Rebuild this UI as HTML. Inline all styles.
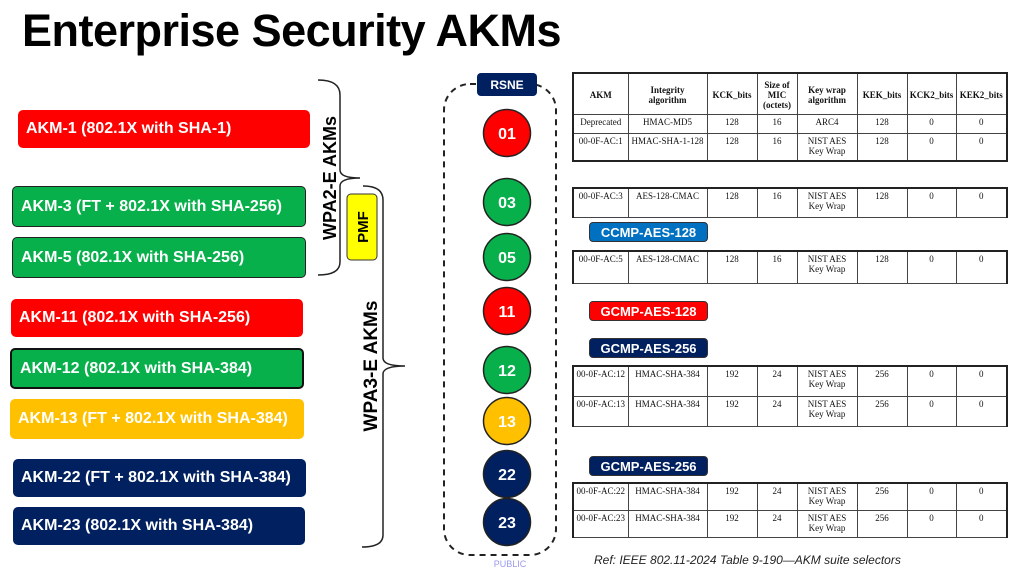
<!DOCTYPE html>
<html><head><meta charset="utf-8"><style>
*{margin:0;padding:0;box-sizing:border-box}
body{width:1022px;height:571px;background:#fff;position:relative;overflow:hidden;font-family:"Liberation Sans",sans-serif}
.t{position:absolute;left:22px;top:5px;font-size:45px;font-weight:bold;color:#000;letter-spacing:-0.5px}
.b{position:absolute;color:#fff;font-weight:bold;font-size:16px;border-radius:5px;padding-left:8px;display:flex;align-items:center;white-space:nowrap}
.tab{position:absolute;left:572px;border-collapse:collapse;font-family:"Liberation Serif",serif;font-size:9px;color:#111}
.tab td{border:1px solid #444;text-align:center;vertical-align:top;padding-top:2px;line-height:10px}
.tab{border-left:2px solid #222;border-right:2px solid #222}
.lab{position:absolute;left:589px;width:119px;height:20px;border-radius:4px;color:#fff;font-weight:bold;font-size:13px;text-align:center;line-height:20px;border:1px solid #333}
</style></head><body>
<div class="t">Enterprise Security AKMs</div>
<div class="b" style="left:18px;top:110px;width:292px;height:38px;background:#ff0000">AKM-1 (802.1X with SHA-1)</div>
<div class="b" style="left:12px;top:186px;width:294px;height:41px;background:#07b04b;border:1.5px solid #222">AKM-3 (FT + 802.1X with SHA-256)</div>
<div class="b" style="left:12px;top:237px;width:294px;height:41px;background:#07b04b;border:1.5px solid #222">AKM-5 (802.1X with SHA-256)</div>
<div class="b" style="left:11px;top:299px;width:292px;height:38px;background:#ff0000">AKM-11 (802.1X with SHA-256)</div>
<div class="b" style="left:10px;top:348px;width:294px;height:41px;background:#07b04b;border:2px solid #111">AKM-12 (802.1X with SHA-384)</div>
<div class="b" style="left:10px;top:399px;width:294px;height:40px;background:#ffc000">AKM-13 (FT + 802.1X with SHA-384)</div>
<div class="b" style="left:13px;top:459px;width:293px;height:38px;background:#002060">AKM-22 (FT + 802.1X with SHA-384)</div>
<div class="b" style="left:13px;top:507px;width:292px;height:38px;background:#002060">AKM-23 (802.1X with SHA-384)</div>

<svg style="position:absolute;left:0;top:0" width="1022" height="571">
<path d="M318,80 Q340,80 340,95 L340,170 Q340,178 360,178 Q340,178 340,186 L340,262 Q340,275 318,275" fill="none" stroke="#222" stroke-width="1.5"/>
<path d="M363,186 Q383,186 383,200 L383,358 Q383,366 405,366 Q383,366 383,374 L383,535 Q383,547 362,547" fill="none" stroke="#222" stroke-width="1.5"/>
<text transform="translate(336,178) rotate(-90)" text-anchor="middle" font-family="Liberation Sans" font-weight="bold" font-size="18">WPA2-E AKMs</text>
<text transform="translate(377,366) rotate(-90)" text-anchor="middle" font-family="Liberation Sans" font-weight="bold" font-size="19">WPA3-E AKMs</text>
<rect x="347" y="194" width="30" height="66" rx="4" fill="#ffff00" stroke="#333"/>
<text transform="translate(368,227) rotate(-90)" text-anchor="middle" font-family="Liberation Sans" font-weight="bold" font-size="15">PMF</text>
<rect x="444" y="84" width="112" height="471" rx="26" fill="none" stroke="#222" stroke-width="2" stroke-dasharray="6,5"/>
<rect x="477" y="73" width="60" height="23" rx="4" fill="#002060"/>
<text x="507" y="89" text-anchor="middle" fill="#fff" font-family="Liberation Sans" font-weight="bold" font-size="12">RSNE</text>
<g stroke="#222" stroke-width="1.5">
<circle cx="507" cy="133" r="23.5" fill="#ff0000"/><circle cx="507" cy="202" r="23.5" fill="#07b04b"/>
<circle cx="507" cy="257" r="23.5" fill="#07b04b"/><circle cx="507" cy="311" r="23.5" fill="#ff0000"/>
<circle cx="507" cy="370" r="23.5" fill="#07b04b"/><circle cx="507" cy="421" r="23.5" fill="#ffc000"/>
<circle cx="507" cy="474" r="23.5" fill="#002060"/><circle cx="507" cy="522" r="23.5" fill="#002060"/>
</g>
<g font-family="Liberation Sans" font-weight="bold" font-size="16" fill="#fff" text-anchor="middle">
<text x="507" y="139">01</text><text x="507" y="208">03</text><text x="507" y="263">05</text><text x="507" y="317">11</text>
<text x="507" y="376">12</text><text x="507" y="427">13</text><text x="507" y="480">22</text><text x="507" y="528">23</text>
</g>
<text x="510" y="567" text-anchor="middle" fill="#9999ee" font-family="Liberation Sans" font-size="9">PUBLIC</text>
<text x="594" y="564" font-family="Liberation Sans" font-style="italic" font-size="12" fill="#222">Ref: IEEE 802.11-2024 Table 9-190—AKM suite selectors</text>
</svg>

<table class="tab" style="top:72px;border-top:2px solid #222;border-bottom:2px solid #222">
<colgroup><col style="width:55px"><col style="width:79px"><col style="width:50px"><col style="width:40px"><col style="width:60px"><col style="width:50px"><col style="width:49px"><col style="width:51px"></colgroup>
<tr style="height:41px;font-weight:bold"><td style="vertical-align:middle">AKM</td><td style="vertical-align:middle">Integrity<br>algorithm</td><td style="vertical-align:middle">KCK_bits</td><td style="vertical-align:middle">Size of<br>MIC<br>(octets)</td><td style="vertical-align:middle">Key wrap<br>algorithm</td><td style="vertical-align:middle">KEK_bits</td><td style="vertical-align:middle">KCK2_bits</td><td style="vertical-align:middle">KEK2_bits</td></tr>
<tr style="height:19px"><td>Deprecated</td><td>HMAC-MD5</td><td>128</td><td>16</td><td>ARC4</td><td>128</td><td>0</td><td>0</td></tr>
<tr style="height:28px"><td>00-0F-AC:1</td><td>HMAC-SHA-1-128</td><td>128</td><td>16</td><td>NIST AES<br>Key Wrap</td><td>128</td><td>0</td><td>0</td></tr>
</table>
<table class="tab" style="top:187px;border-top:2px solid #222">
<colgroup><col style="width:55px"><col style="width:79px"><col style="width:50px"><col style="width:40px"><col style="width:60px"><col style="width:50px"><col style="width:49px"><col style="width:51px"></colgroup>
<tr style="height:29px"><td>00-0F-AC:3</td><td>AES-128-CMAC</td><td>128</td><td>16</td><td>NIST AES<br>Key Wrap</td><td>128</td><td>0</td><td>0</td></tr>
</table>
<div class="lab" style="top:222px;background:#0070c0">CCMP-AES-128</div>
<table class="tab" style="top:250px;border-top:2px solid #222">
<colgroup><col style="width:55px"><col style="width:79px"><col style="width:50px"><col style="width:40px"><col style="width:60px"><col style="width:50px"><col style="width:49px"><col style="width:51px"></colgroup>
<tr style="height:32px"><td>00-0F-AC:5</td><td>AES-128-CMAC</td><td>128</td><td>16</td><td>NIST AES<br>Key Wrap</td><td>128</td><td>0</td><td>0</td></tr>
</table>
<div class="lab" style="top:301px;background:#ff0000">GCMP-AES-128</div>
<div class="lab" style="top:338px;background:#002060">GCMP-AES-256</div>
<table class="tab" style="top:365px;border-top:2px solid #222">
<colgroup><col style="width:55px"><col style="width:79px"><col style="width:50px"><col style="width:40px"><col style="width:60px"><col style="width:50px"><col style="width:49px"><col style="width:51px"></colgroup>
<tr style="height:30px"><td>00-0F-AC:12</td><td>HMAC-SHA-384</td><td>192</td><td>24</td><td>NIST AES<br>Key Wrap</td><td>256</td><td>0</td><td>0</td></tr>
<tr style="height:30px"><td>00-0F-AC:13</td><td>HMAC-SHA-384</td><td>192</td><td>24</td><td>NIST AES<br>Key Wrap</td><td>256</td><td>0</td><td>0</td></tr>
</table>
<div class="lab" style="top:456px;background:#002060">GCMP-AES-256</div>
<table class="tab" style="top:482px;border-top:2px solid #222">
<colgroup><col style="width:55px"><col style="width:79px"><col style="width:50px"><col style="width:40px"><col style="width:60px"><col style="width:50px"><col style="width:49px"><col style="width:51px"></colgroup>
<tr style="height:27px"><td>00-0F-AC:22</td><td>HMAC-SHA-384</td><td>192</td><td>24</td><td>NIST AES<br>Key Wrap</td><td>256</td><td>0</td><td>0</td></tr>
<tr style="height:27px"><td>00-0F-AC:23</td><td>HMAC-SHA-384</td><td>192</td><td>24</td><td>NIST AES<br>Key Wrap</td><td>256</td><td>0</td><td>0</td></tr>
</table>
</body></html>
